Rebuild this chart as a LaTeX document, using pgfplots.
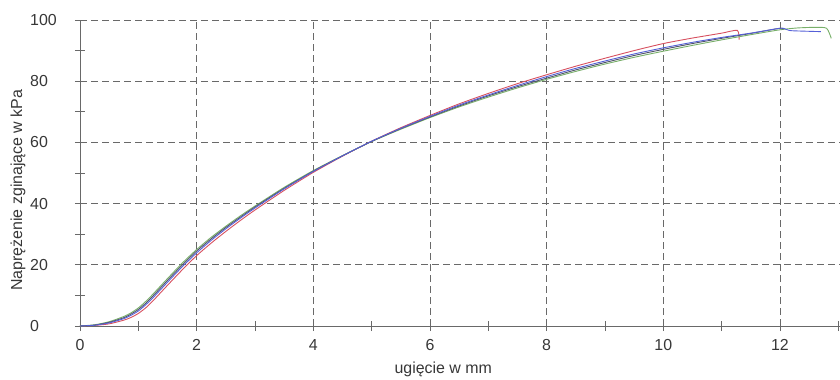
\documentclass[border=0pt]{standalone}
\usepackage{pgfplots}
\pgfplotsset{compat=1.18}
\usepackage{fontspec}
\setmainfont{Liberation Sans}
\definecolor{txt}{RGB}{55,55,55}
\definecolor{gridc}{RGB}{105,105,105}
\definecolor{cred}{RGB}{215,80,95}
\definecolor{cblue}{RGB}{85,95,215}
\definecolor{cgreen}{RGB}{120,175,105}
\definecolor{cgray}{RGB}{80,85,105}
\begin{document}
\begin{tikzpicture}
\begin{axis}[
  at={(0,0)}, anchor=origin,
  scale only axis, width=760bp, height=306bp,
  xmin=0, xmax=13.03, ymin=0, ymax=100,
  axis lines*=left, axis line style={-, gridc, line width=0.9bp},
  xtick={0,2,...,12}, ytick={0,20,...,100},
  minor xtick={1,3,...,13}, minor ytick={10,30,...,90},
  tick align=center, major tick length=10bp, minor tick length=10bp,
  tick style={gridc, line width=0.8bp},
  xmajorgrids, ymajorgrids,
  major grid style={gridc, line width=0.8bp, dash pattern=on 7bp off 4bp},
  /pgf/number format/assume math mode=true,
  tick label style={font=\fontsize{16}{18}\selectfont, text=txt},
  yticklabel style={anchor=west, inner sep=0pt, xshift=-45bp},
  xticklabel style={inner sep=0pt, yshift=-8bp},
  xlabel={ugięcie w mm}, ylabel={Naprężenie zginające w kPa},
  label style={font=\fontsize{16}{18}\selectfont, text=txt},
  xlabel style={at={(axis description cs:0.478,0)}, anchor=center, yshift=-43bp},
  ylabel style={at={(axis description cs:-0.0816,0.444)}, anchor=center, rotate=0},
  clip=false,
  every axis plot/.style={line width=0.9bp, smooth, tension=0.4},
]
\addplot[cred] coordinates {(0,0)(0.25,0.2)(0.5,0.7)(0.75,1.9)(0.875,2.8)(1,4.1)(1.125,5.9)(1.25,8.2)(1.5,13.3)(1.75,18.3)(2,23.0)(2.25,27.1)(2.5,30.9)(2.75,34.5)(3,37.9)(3.5,44.3)(4,50.2)(4.5,55.5)(5,60.4)(5.5,64.8)(6,68.8)(6.5,72.6)(7,76.0)(7.5,79.2)(8,82.1)(8.5,84.9)(9,87.5)(9.5,90.0)(10,92.3)(10.5,94.1)(11,95.7)(11.27,96.6)(11.3,93.6)};
\addplot[cgreen] coordinates {(0,0)(0.25,0.4)(0.5,1.4)(0.75,3.1)(0.875,4.3)(1,5.9)(1.125,8.0)(1.25,10.4)(1.5,15.5)(1.75,20.5)(2,25.0)(2.25,29.0)(2.5,32.6)(2.75,36.0)(3,39.2)(3.5,45.3)(4,50.8)(4.5,55.7)(5,60.3)(5.5,64.3)(6,68.1)(6.5,71.6)(7,74.8)(7.5,77.8)(8,80.6)(8.5,83.2)(9,85.6)(9.5,87.8)(10,89.8)(10.5,91.7)(11,93.5)(11.5,95.2)(12,96.8)(12.3,97.4)(12.6,97.6)(12.8,97.3)(12.88,94)};
\addplot[cgray] coordinates {(0,0)(0.25,0.3)(0.5,1.2)(0.75,2.7)(0.875,3.9)(1,5.4)(1.125,7.4)(1.25,9.8)(1.5,14.9)(1.75,19.9)(2,24.5)(2.25,28.5)(2.5,32.2)(2.75,35.6)(3,38.9)(3.5,45.0)(4,50.6)(4.5,55.6)(5,60.3)(5.5,64.5)(6,68.3)(6.5,71.9)(7,75.2)(7.5,78.2)(8,81.0)(8.5,83.7)(9,86.1)(9.5,88.4)(10,90.4)(10.5,92.3)(11,94.0)(11.5,95.6)(12,97.3)(12.05,96.9)};
\addplot[cblue] coordinates {(0,0)(0.25,0.25)(0.5,1.0)(0.75,2.4)(0.875,3.5)(1,4.9)(1.125,6.9)(1.25,9.2)(1.5,14.3)(1.75,19.3)(2,23.9)(2.25,28.0)(2.5,31.75)(2.75,35.25)(3,38.55)(3.5,44.8)(4,50.5)(4.5,55.6)(5,60.4)(5.5,64.6)(6,68.5)(6.5,72.2)(7,75.5)(7.5,78.6)(8,81.5)(8.5,84.2)(9,86.6)(9.5,88.9)(10,90.9)(10.5,92.7)(11,94.3)(11.5,95.7)(12,97.3)(12.1,97.0)(12.2,96.5)(12.7,96.2)};
\end{axis}
\pgfresetboundingbox
\path[use as bounding box] (-80bp,-54bp) rectangle (760bp,326bp);
\end{tikzpicture}
\end{document}
